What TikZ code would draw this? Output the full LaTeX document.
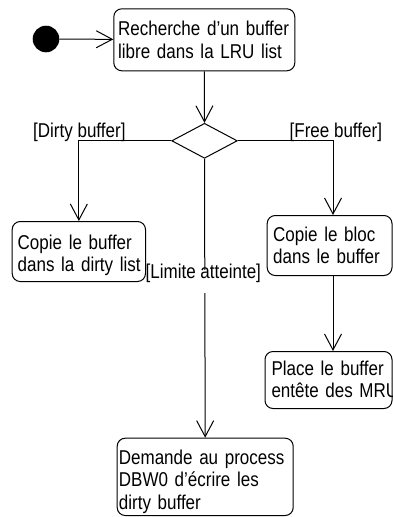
\documentclass[tikz,border=0pt]{standalone}
\usepackage{fontspec}
\setmainfont{Liberation Sans}[FakeStretch=0.85]
\usetikzlibrary{arrows.meta,shapes.geometric}

\begin{document}
\begin{tikzpicture}[x=1pt,y=-1pt,
  every node/.style={font=\fontsize{20}{22.5}\selectfont},
  actbox/.style={draw, rounded corners=8pt, line width=1pt, inner sep=0pt, anchor=north west},
  acttext/.style={anchor=base west, inner sep=0pt, text width=180pt, align=left},
  guard/.style={anchor=base west, inner sep=0pt},
  flow/.style={line width=1pt, -{Straight Barb[length=16pt,width=17pt]}},
  ]
\useasboundingbox (0,0) rectangle (392,517);

% initial state and activities
\node[circle, fill, minimum size=26.6pt, inner sep=0pt] (start) at (46,39) {};

\node[actbox, minimum width=181pt, minimum height=62pt] (search) at (113.3,8.3) {};
\node[acttext] (searchT) at (118,35.5) {Recherche d'un buffer\\libre dans la LRU list};

\node[shape=diamond, draw, line width=1pt, inner sep=0pt,
      minimum width=65.6pt, minimum height=35pt] (dia) at (204.5,140.8) {};

\node[actbox, minimum width=133.3pt, minimum height=60pt] (copyDirty) at (11.7,221) {};
\node[acttext] (copyDirtyT) at (17.5,249.3) {Copie le buffer\\dans la dirty list};

\node[actbox, minimum width=124.8pt, minimum height=60pt] (copyBlock) at (266.7,215) {};
\node[acttext] (copyBlockT) at (273,241) {Copie le bloc\\dans le buffer};

\node[actbox, minimum width=127pt, minimum height=57pt] (place) at (264.5,351) {};
\node[acttext] (placeT) at (271.3,375) {Place le buffer\\entête des MRU};

\node[actbox, minimum width=176pt, minimum height=77.3pt] (ask) at (116.7,437.7) {};
\node[acttext] (askT) at (118.7,464.3) {Demande au process\\DBW0 d'écrire les\\dirty buffer};

\coordinate (rx) at (333,0);

% transitions
\draw[flow] (start) -- (search);
\draw[flow] (search.south) -- (dia.north);
\draw[flow] (dia.west) -| (copyDirty.north);
\draw[flow] (dia.east) -| (copyBlock.north -| rx);
\draw[flow] (copyBlock.south -| rx) -- (place.north -| rx);
\draw[flow] (dia.south) -- (ask.north);

% guards
\node[guard] (gDirty) at (33,137.3) {[Dirty buffer]};
\node[guard] (gFree) at (289.5,137.3) {[Free buffer]};
\node[guard, fill=white, text height=8pt, text depth=15pt] (gLimit) at (145.5,278.3) {[Limite atteinte]};
\end{tikzpicture}
\end{document}
